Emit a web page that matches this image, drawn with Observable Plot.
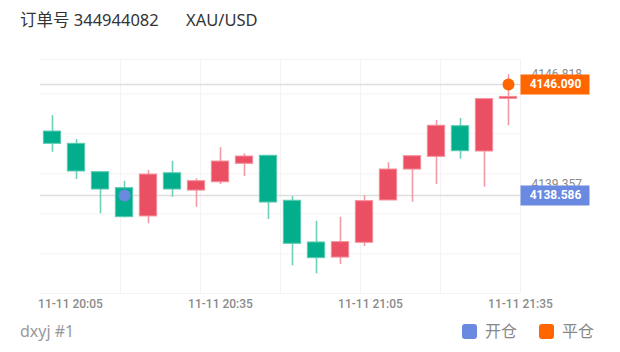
<!DOCTYPE html>
<html><head><meta charset="utf-8">
<script src="https://cdn.jsdelivr.net/npm/d3@7"></script>
<script src="https://cdn.jsdelivr.net/npm/@observablehq/plot@0.6"></script>
<style>
html,body{margin:0;padding:0;background:#fff;overflow:hidden;}
#wrap{position:relative;width:620px;height:352px;overflow:hidden;font-family:"Noto Sans","Noto Sans CJK SC",sans-serif;}
.title{position:absolute;top:8px;font-size:16.5px;color:#333;white-space:pre;line-height:24px;}
#chart{position:absolute;left:0;top:0;width:620px;height:352px;}
#chart svg{display:block;}
#foot{position:absolute;left:20px;top:319px;font-size:16px;color:#999;line-height:24px;}
#legend{position:absolute;left:462px;top:319px;font-size:16px;color:#888;line-height:24px;display:flex;align-items:center;}
#legend .sw{display:inline-block;width:15px;height:15px;border-radius:3px;margin-right:8px;}
#legend .it{display:flex;align-items:center;margin-right:22px;}
</style></head>
<body>
<div id="wrap">
  <div id="chart"></div>
  <div class="title" id="t1" style="left:20px"></div>
  <div class="title" id="t2" style="left:186px"></div>
  <div id="foot"></div>
  <div id="legend"></div>
</div>
<script>
// ---- data ----
const titleOrder = "订单号 344944082";
const titleSymbol = "XAU/USD";
const footText = "dxyj #1";
const candleIdx = [0,1,2,3,4,5,6,7,8,9,10,11,12,13,14,15,16,17,18,19];
const opens  = [4142.91,4142.08,4140.16,4139.08,4137.17,4140.09,4138.92,4139.48,4140.73,4141.27,4138.23,4135.41,4134.39,4135.39,4138.25,4140.34,4141.20,4143.27,4141.56,4145.12];
const highs  = [4143.99,4142.37,4140.16,4139.55,4140.28,4140.90,4139.71,4141.81,4141.40,4141.27,4138.52,4136.85,4137.12,4138.57,4140.80,4141.24,4143.66,4143.79,4145.10,4146.75];
const lows   = [4141.51,4139.67,4137.35,4137.08,4136.67,4138.47,4137.79,4139.33,4139.87,4136.96,4133.83,4133.29,4133.92,4135.14,4138.25,4138.13,4139.33,4141.04,4139.15,4143.30];
const closes = [4142.08,4140.21,4138.99,4137.12,4140.00,4138.99,4139.55,4140.88,4141.22,4138.11,4135.32,4134.35,4135.43,4138.20,4140.34,4141.24,4143.30,4141.58,4145.10,4145.25];
const xTickValues = [0.75, 7, 13.25, 19.5];
const xTickLabels = ["11-11 20:05","11-11 20:35","11-11 21:05","11-11 21:35"];
const xGrid = [2.8333, 6.1667, 9.5, 12.8333, 16.1667, 19.5];
const yDomain = [4131.96, 4147.78];
const yGrid = [4145.46, 4142.76, 4140.05, 4137.35, 4134.64];
const yAxisLabels = [4146.818, 4139.357];
const tradeTypes = ["开仓", "平仓"];
const tradeIdx = [3, 19];
const tradePrices = [4138.586, 4146.090];

// ---- styles ----
const RED = "#eb4f63", RED_W = "#f29aa5", RED_S = "#f48c99";
const GREEN = "#03ae8c", GREEN_W = "#6dd0bb", GREEN_S = "#5cc9b1";
const tradeColors = {"开仓": "#6a89e1", "平仓": "#ff6600"};
const GRID = "#f3f3f3";

const data = candleIdx.map((i, k) => ({i, open: opens[k], high: highs[k], low: lows[k], close: closes[k], up: closes[k] >= opens[k]}));
const trades = tradeTypes.map((t, k) => ({type: t, i: tradeIdx[k], price: tradePrices[k]}));

const boxSymbol = {draw(ctx) { ctx.rect(0, -10, 69, 20); }};

const marks = [
  Plot.ruleY(yGrid, {stroke: GRID, strokeWidth: 1}),
  Plot.ruleY(yDomain, {stroke: GRID, strokeWidth: 1}),
  Plot.ruleX(xGrid, {stroke: GRID, strokeWidth: 1}),
  Plot.axisX(xTickValues, {anchor: "bottom", label: null, tickSize: 0, tickPadding: 6, fontSize: 12, fontWeight: 500, fill: "#8a8a8a",
    tickFormat: d => xTickLabels[xTickValues.indexOf(d)]}),
  Plot.ruleY(trades, {y: "price", stroke: "#dedede", strokeWidth: 1.5}),
  Plot.ruleX(data, {filter: d => d.up, x: "i", y1: "low", y2: "high", stroke: RED_W, strokeWidth: 1.6}),
  Plot.ruleX(data, {filter: d => !d.up, x: "i", y1: "low", y2: "high", stroke: GREEN_W, strokeWidth: 1.6}),
  Plot.rect(data, {filter: d => d.up, x1: d => d.i - 0.36, x2: d => d.i + 0.36, y1: "open", y2: "close", fill: RED, stroke: RED_S, strokeWidth: 1}),
  Plot.rect(data, {filter: d => !d.up, x1: d => d.i - 0.36, x2: d => d.i + 0.36, y1: "open", y2: "close", fill: GREEN, stroke: GREEN_S, strokeWidth: 1}),
  ...tradeTypes.map(t => Plot.dot(trades, {filter: d => d.type === t, x: "i", y: "price", r: 6, fill: tradeColors[t], stroke: "none"})),
  Plot.axisY(yAxisLabels, {anchor: "right", label: null, tickSize: 0, tickPadding: 11, fontSize: 12, fill: "#8a8a8a", tickFormat: d3.format(".3f")}),
  ...tradeTypes.map(t => Plot.dot(trades, {filter: d => d.type === t, y: "price", frameAnchor: "right", symbol: boxSymbol, r: 1, fill: tradeColors[t], stroke: "none"})),
  Plot.text(trades, {y: "price", frameAnchor: "right", dx: 35, textAnchor: "middle", text: d => d.price.toFixed(3), fill: "white", fontWeight: "bold", fontSize: 12})
];

const chart = Plot.plot({
  width: 620, height: 352,
  marginTop: 59, marginBottom: 59, marginLeft: 40, marginRight: 100,
  style: {fontFamily: "Roboto, 'Noto Sans', sans-serif", background: "transparent"},
  x: {domain: [-0.5, 19.5], axis: null, label: null},
  y: {domain: yDomain, axis: null, label: null},
  marks
});
document.getElementById("chart").appendChild(chart);
document.getElementById("t1").textContent = titleOrder;
document.getElementById("t2").textContent = titleSymbol;
document.getElementById("foot").textContent = footText;
const lg = document.getElementById("legend");
tradeTypes.forEach(t => {
  const it = document.createElement("span"); it.className = "it";
  const sw = document.createElement("span"); sw.className = "sw"; sw.style.background = tradeColors[t];
  it.appendChild(sw); it.appendChild(document.createTextNode(t));
  lg.appendChild(it);
});
</script>
</body></html>
